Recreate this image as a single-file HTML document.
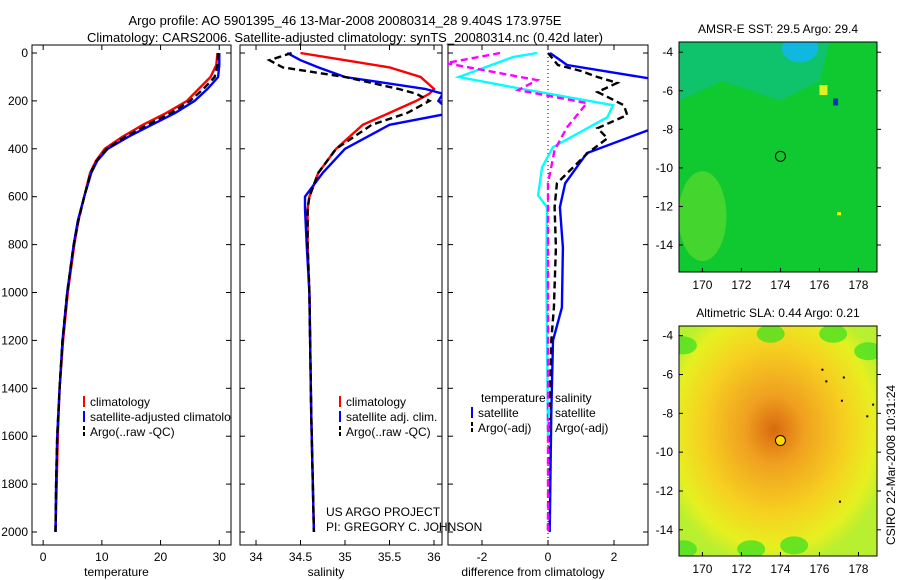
<!DOCTYPE html>
<html><head><meta charset="utf-8">
<style>
body{margin:0;background:#fff;}
svg{display:block;font-family:"Liberation Sans",sans-serif;}
text{font-size:12px;fill:#000;}
</style></head>
<body>
<svg id="fig" width="900" height="580" viewBox="0 0 900 580">
<defs>
<radialGradient id="slaG" cx="0.48" cy="0.45" r="0.6">
<stop offset="0" stop-color="#d86a10"/>
<stop offset="0.25" stop-color="#f0a020"/>
<stop offset="0.6" stop-color="#f6d020"/>
<stop offset="0.85" stop-color="#e6f020"/>
<stop offset="1" stop-color="#b8ef30"/>
</radialGradient>
<clipPath id="c1"><rect x="32" y="45" width="199" height="500"/></clipPath>
<clipPath id="c2"><rect x="240" y="45" width="202" height="500"/></clipPath>
<clipPath id="c3"><rect x="448" y="45" width="200" height="500"/></clipPath>
</defs>
<text x="345" y="25" text-anchor="middle" style="font-size:13px">Argo profile: AO 5901395_46 13-Mar-2008 20080314_28 9.404S 173.975E</text>
<text x="345" y="42" text-anchor="middle" style="font-size:13px">Climatology: CARS2006. Satellite-adjusted climatology: synTS_20080314.nc (0.42d later)</text>
<g id="g1"></g>
<g id="g2"></g>
<g id="g3"></g>
<g id="m1"></g>
<g id="m2"></g>
<text transform="translate(895,465) rotate(-90)" text-anchor="middle">CSIRO 22-Mar-2008 10:31:24</text>
<text x="326" y="516">US ARGO PROJECT</text>
<text x="326" y="531">PI: GREGORY C. JOHNSON</text>
</svg>
<script>
const NS="http://www.w3.org/2000/svg";
// ---- data ----
const depthT=[0,50,100,150,200,250,300,350,400,450,500,600,700,800,1000,1200,1400,1600,1800,2000];
const climT=[29.7,29.5,28.5,26.5,24.5,21,17,13.5,10.5,9,8,7,6,5.3,4.2,3.4,2.8,2.5,2.3,2.1];
const satT=[30,30,29.8,28,25.8,22.5,18.5,14.5,11,9.2,8.2,7,5.9,5.2,4.1,3.3,2.8,2.4,2.2,2.1];
const argoT=[29.8,29.7,29.2,27.3,25,21.8,17.8,14,10.8,9.1,8.1,7,6,5.2,4.1,3.3,2.8,2.4,2.2,2.1];
const depthS=[0,30,60,100,150,170,200,250,300,400,500,600,650,800,1000,1500,2000];
const climS=[34.5,35.0,35.5,35.85,36.0,35.95,35.8,35.5,35.2,34.9,34.7,34.6,34.58,34.58,34.6,34.62,34.65];
const satS=[34.35,34.5,34.7,35.0,35.9,36.1,36.05,36.2,35.5,35.0,34.75,34.55,34.55,34.57,34.6,34.62,34.65];
const argoS=[34.4,34.15,34.3,35.0,35.6,35.8,35.95,35.7,35.3,34.9,34.7,34.6,34.58,34.58,34.6,34.62,34.65];
const dDepthTs=[0,50,109,314,418,544,644,812,1063,1200,1500,2000];
const dTs=[0.06,0.58,3.2,3.2,1.18,0.52,0.36,0.45,0.42,0.15,0.1,0.05];
const dDepthTa=[0,50,75,100,125,163,218,259,314,356,418,544,644,812,1063,1200,1600,2000];
const dTa=[0,0.3,1.0,1.5,2.1,1.5,2.3,2.4,1.5,1.8,1.2,0.27,0.2,0.24,0.18,0.1,0.03,0];
const dDepthSs=[0,17,100,146,218,268,393,477,594,644,900,1300,1600];
const dSs=[-0.33,-1.06,-2.7,-0.94,1.97,1.8,0.15,-0.18,-0.3,-0.03,-0.05,-0.02,0];
const dDepthSa=[0,42,113,155,209,310,406,544,800,1200,2000];
const dSa=[-1.45,-3.1,-0.33,-0.9,1.18,0.58,0.2,0,0,0,0];
const depthTicks=[0,200,400,600,800,1000,1200,1400,1600,1800,2000];
const tTicks=[0,10,20,30], sTicks=[34,34.5,35,35.5,36], dTicks=[-2,0,2];
const lonTicks=[170,172,174,176,178], latTicks=[-4,-6,-8,-10,-12,-14];
// ---- helpers ----
function el(tag,a,p){const e=document.createElementNS(NS,tag);for(const k in a)e.setAttribute(k,a[k]);p.appendChild(e);return e;}
const TOP=45,BOT=545;
const Y=d=>53+d*0.2395;
function panel(g,x0,x1,xmin,xmax,ticks,label,showY){
  const X=v=>x0+(v-xmin)/(xmax-xmin)*(x1-x0);
  const r=el('rect',{x:x0,y:TOP,width:x1-x0,height:BOT-TOP,fill:'#fff',stroke:'#000'},g);
  
  ticks.forEach(t=>{const x=X(t);el('line',{x1:x,x2:x,y1:TOP,y2:TOP+5,stroke:'#000'},g);el('line',{x1:x,x2:x,y1:BOT,y2:BOT-5,stroke:'#000'},g);
    const tx=el('text',{x:x,y:561,'text-anchor':'middle'},g);tx.textContent=String(t);
    });
  depthTicks.forEach(d=>{el('line',{x1:x0,x2:x0+5,y1:Y(d),y2:Y(d),stroke:'#000'},g);el('line',{x1:x1,x2:x1-5,y1:Y(d),y2:Y(d),stroke:'#000'},g);
    if(showY){const tx=el('text',{x:x0-4,y:Y(d)+4,'text-anchor':'end'},g);tx.textContent=String(d);
    }});
  const xl=el('text',{x:(x0+x1)/2-15,y:576,'text-anchor':'middle'},g);xl.textContent=label;
  
  return X;
}
function line(g,X,vals,depths,color,dash,name,clip){
  const pts=vals.map((v,i)=>X(v).toFixed(1)+','+Y(depths[i]).toFixed(1)).join(' ');
  const p=el('polyline',{points:pts,fill:'none',stroke:color,'stroke-width':2.4,'clip-path':'url(#'+clip+')'},g);
  if(dash)p.setAttribute('stroke-dasharray','7,4');
  
}
function legend(g,x,y,items,clip){
  items.forEach((it,i)=>{const yy=y+i*15;
    const l=el('line',{x1:x,x2:x,y1:yy-10,y2:yy+1,stroke:it[1],'stroke-width':2},g);
    if(it[2])l.setAttribute('stroke-dasharray','4,2');
    
    const t=el('text',{x:x+6,y:yy},g);t.textContent=it[0];
    if(clip)t.setAttribute('clip-path','url(#'+clip+')');
    });
}
// ---- panel 1 ----
const g1=document.getElementById('g1');
const X1=panel(g1,32,231,-1.9,32.0,tTicks,'temperature',true);
line(g1,X1,climT,depthT,'#f00',false,'climatology-temperature-line','c1');
line(g1,X1,satT,depthT,'#00f',false,'satellite-temperature-line','c1');
line(g1,X1,argoT,depthT,'#000',true,'argo-temperature-line','c1');
legend(g1,84,406,[['climatology','#f00'],['satellite-adjusted climatology','#00f'],['Argo(..raw -QC)','#000',1]],'c1');
// ---- panel 2 ----
const g2=document.getElementById('g2');
const X2=panel(g2,240,442,33.82,36.09,sTicks,'salinity',false);
line(g2,X2,climS,depthS,'#f00',false,'climatology-salinity-line','c2');
line(g2,X2,satS,depthS,'#00f',false,'satellite-salinity-line','c2');
line(g2,X2,argoS,depthS,'#000',true,'argo-salinity-line','c2');
legend(g2,340,406,[['climatology','#f00'],['satellite adj. clim.','#00f'],['Argo(..raw -QC)','#000',1]]);
// ---- panel 3 ----
const g3=document.getElementById('g3');
const X3=panel(g3,448,648,-3.03,3.03,dTicks,'difference from climatology',false);
const zl=el('line',{x1:X3(0),x2:X3(0),y1:TOP,y2:BOT,stroke:'#000','stroke-dasharray':'1,3'},g3);

line(g3,X3,dTs,dDepthTs,'#00f',false,'temperature-satellite-diff','c3');
line(g3,X3,dTa,dDepthTa,'#000',true,'temperature-argo-diff','c3');
line(g3,X3,dSs,dDepthSs,'#0ff',false,'salinity-satellite-diff','c3');
line(g3,X3,dSa,dDepthSa,'#f0f',true,'salinity-argo-diff','c3');
[['temperature',481,402],['salinity',555,402]].forEach(h=>{const t=el('text',{x:h[1],y:h[2]},g3);t.textContent=h[0];
 });
legend(g3,472,417,[['satellite','#00f'],['Argo(-adj)','#000',1]]);
legend(g3,549,417,[['satellite','#0ff'],['Argo(-adj)','#f0f',1]]);
// ---- maps ----
function map(g,top,bot,latTop,latBot,title,fill,extra){
  const x0=679,x1=877,lonMin=168.8,lonMax=178.95;
  const LX=v=>x0+(v-lonMin)/(lonMax-lonMin)*(x1-x0);
  const LY=v=>top+(latTop-v)/(latTop-latBot)*(bot-top);
  const tt=el('text',{x:778,y:top-9,'text-anchor':'middle'},g);tt.textContent=title;
  
  const bg=el('rect',{x:x0,y:top,width:x1-x0,height:bot-top,fill:fill},g);
  
  const cp=el('clipPath',{id:'cp'+top},g);el('rect',{x:x0,y:top,width:x1-x0,height:bot-top},cp);
  const inner=el('g',{'clip-path':'url(#cp'+top+')'},g);
  extra(LX,LY,inner);
  el('rect',{x:x0,y:top,width:x1-x0,height:bot-top,fill:'none',stroke:'#000'},g);
  lonTicks.forEach(v=>{el('line',{x1:LX(v),x2:LX(v),y1:bot,y2:bot-4,stroke:'#000'},g);
    const t=el('text',{x:LX(v),y:bot+17,'text-anchor':'middle'},g);t.textContent=v;
    });
  latTicks.forEach(v=>{el('line',{x1:x0,x2:x0+4,y1:LY(v),y2:LY(v),stroke:'#000'},g);el('line',{x1:x1,x2:x1+4,y1:LY(v),y2:LY(v),stroke:'#000'},g);
    const t=el('text',{x:x0-6,y:LY(v)+4,'text-anchor':'end'},g);t.textContent=v;
    });
}
const m1=document.getElementById('m1');
map(m1,42,272,-3.47,-15.4,'AMSR-E SST: 29.5 Argo: 29.4','#10c830',(LX,LY,p)=>{
  el('path',{d:`M${LX(168.8)},${LY(-3.47)} L${LX(176.5)},${LY(-3.47)} L${LX(176)},${LY(-5.5)} L${LX(174)},${LY(-6.5)} L${LX(171)},${LY(-5.5)} L${LX(168.8)},${LY(-6.5)}Z`,fill:'#10c088',opacity:0.7},p);
  el('ellipse',{cx:LX(175),cy:LY(-3.8),rx:18,ry:14,fill:'#10b8e0'},p);
  el('ellipse',{cx:LX(170),cy:LY(-12.5),rx:24,ry:45,fill:'#70e030',opacity:0.55},p);
  el('rect',{x:LX(176),y:LY(-5.7),width:8,height:10,fill:'#e0f020'},p);
  el('rect',{x:LX(176.7),y:LY(-6.4),width:5,height:7,fill:'#1030c0'},p);
  el('rect',{x:LX(176.9),y:LY(-12.3),width:4,height:3,fill:'#ff0'},p);
  const c=el('circle',{cx:LX(174),cy:LY(-9.4),r:5,fill:'none',stroke:'#000'},p);
  
});
const m2=document.getElementById('m2');
map(m2,326,556,-3.5,-15.35,'Altimetric SLA: 0.44 Argo: 0.21','url(#slaG)',(LX,LY,p)=>{
  [[173.5,-3.9],[176.7,-3.9],[178.5,-4.8],[169,-15],[172.5,-15],[174.7,-14.8],[169,-4.5]].forEach(q=>{
    el('ellipse',{cx:LX(q[0]),cy:LY(q[1]),rx:14,ry:9,fill:'#40e020',opacity:0.75},p);});
  const c=el('circle',{cx:LX(174),cy:LY(-9.4),r:5,fill:'#ffd800',stroke:'#000'},p);
  
  [[176.1,-5.7],[176.3,-6.3],[177.2,-6.1],[177.1,-7.3],[178.4,-8.1],[178.7,-7.5],[177,-12.5]].forEach(q=>{
    el('rect',{x:LX(q[0]),y:LY(q[1]),width:2,height:2,fill:'#000'},p);});
});
</script>
</body></html>
